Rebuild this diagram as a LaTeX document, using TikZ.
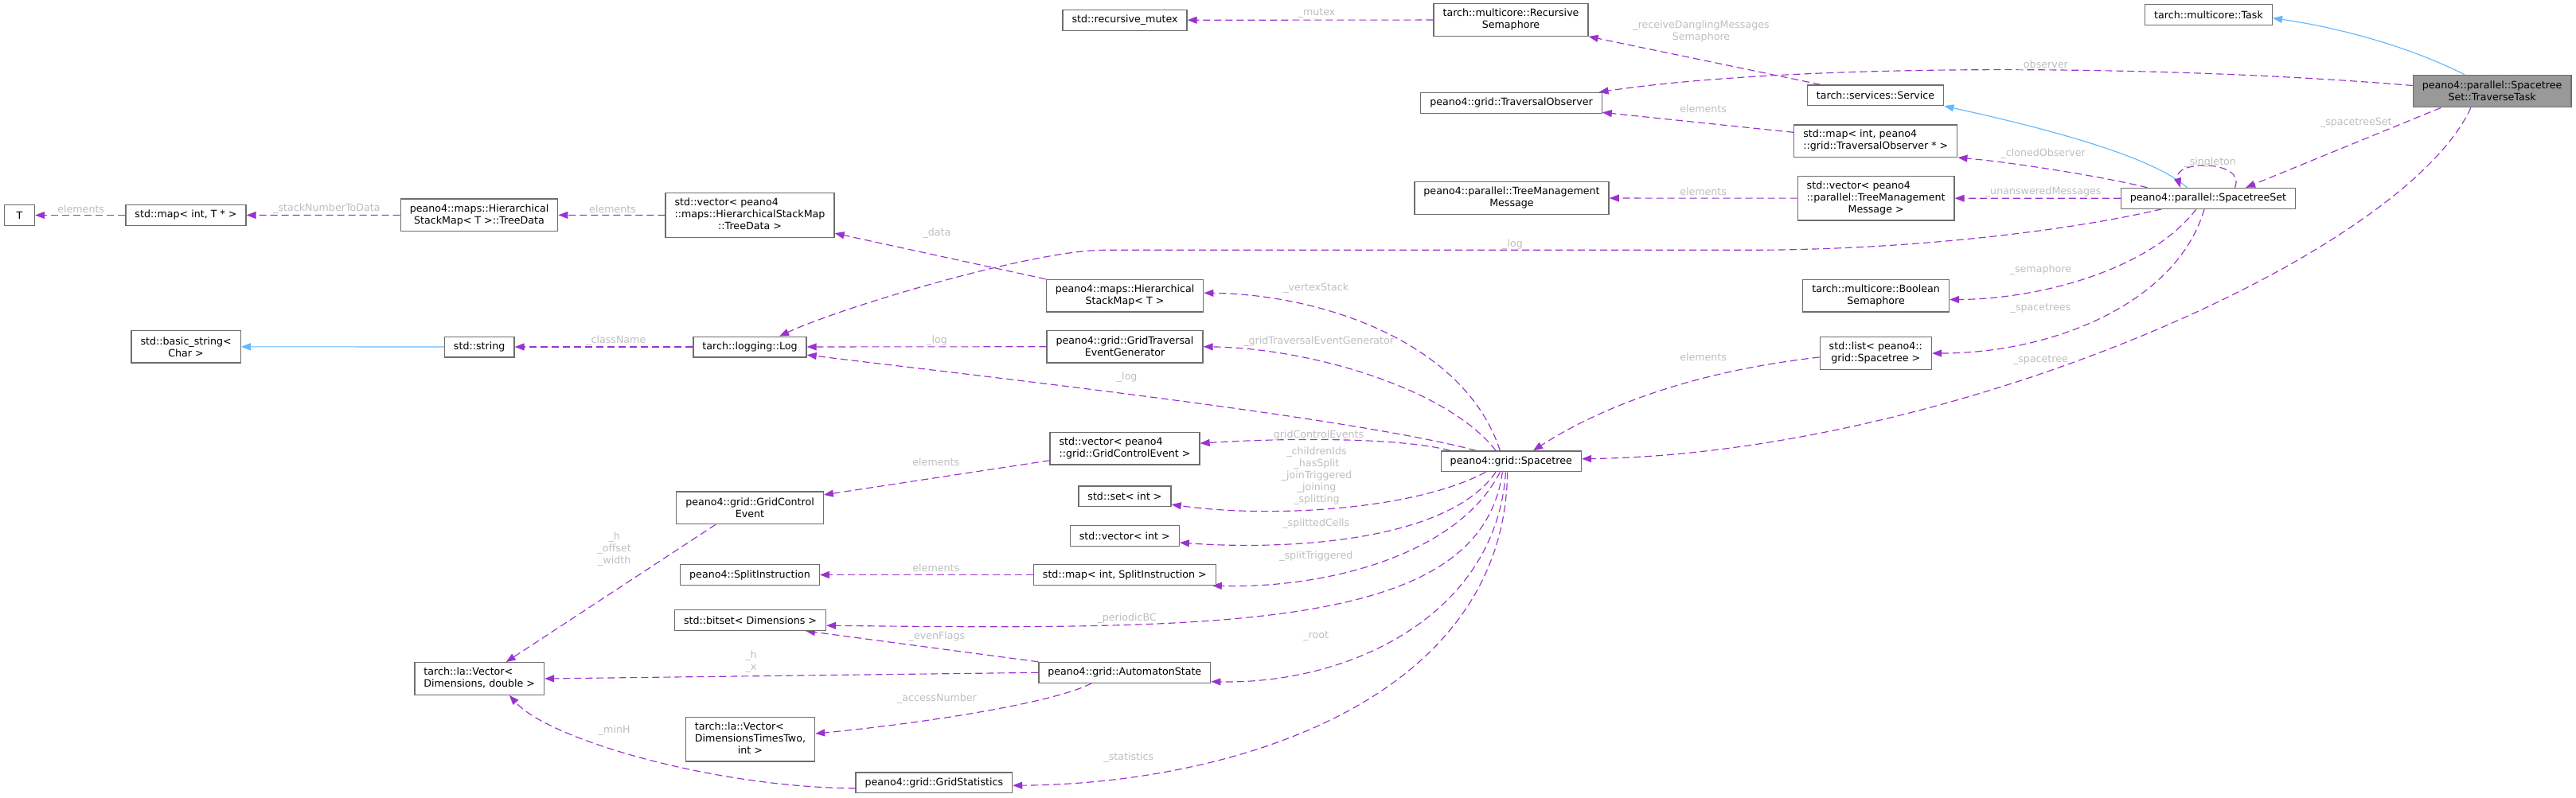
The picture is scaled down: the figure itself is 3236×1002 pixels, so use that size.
\documentclass[tikz,border=0pt]{standalone}
\usepackage{fontspec}
\setmainfont{DejaVu Sans}
\usetikzlibrary{arrows.meta,backgrounds}

\definecolor{usecol}{RGB}{154,50,205}
\definecolor{inhcol}{RGB}{99,184,255}
\definecolor{boxline}{RGB}{110,110,110}
\definecolor{lblcol}{RGB}{190,190,190}
\definecolor{selfill}{RGB}{153,153,153}
\newcommand{\ltab}[1]{\begin{tabular}{@{}l@{}}#1\end{tabular}}
\newcommand{\cl}[1]{\multicolumn{1}{@{}c@{}}{#1}}

\begin{document}
\begin{tikzpicture}[
  x=1pt, y=-1pt,
  font=\fontsize{12.65}{15}\selectfont,
  cls/.style={draw=boxline, line width=1.3pt, fill=white, minimum height=25.7pt,
    minimum width=38pt, inner xsep=11.5pt, inner ysep=2pt, align=center},
  lines2/.style={minimum height=40.5pt},
  lines3/.style={minimum height=55.5pt},
  focus/.style={cls, fill=selfill},
  member/.style={draw=usecol, line width=1.15pt, dash pattern=on 9pt off 5pt,
    -{Triangle[length=12pt,width=9pt]}},
  inherit/.style={draw=inhcol, line width=1.15pt, -{Triangle[length=12pt,width=9pt]}},
  lbl/.style={text=lblcol, inner sep=0pt, align=center}
]
\useasboundingbox (0,0) rectangle (3236,1002);

\node[cls] (T) at (24.5,270.5) {T};
\node[cls] (mapIntT) at (233.5,270.5) {std::map< int, T * >};
\node[cls, lines2] (treeData) at (602,270.3) {peano4::maps::Hierarchical\\StackMap< T >::TreeData};
\node[cls, lines3] (vecTreeData) at (942,270.5) {\ltab{std::vector< peano4\\::maps::HierarchicalStackMap\\\cl{::TreeData >}}};
\node[cls, lines2] (basicString) at (233.6,435.8) {std::basic\_string<\\Char >};
\node[cls] (stdString) at (602.2,436) {std::string};
\node[cls] (log) at (942,436) {tarch::logging::Log};
\node[cls] (recMutex) at (1413,25.3) {std::recursive\_mutex};
\node[cls, lines2] (recSem) at (1898,25) {tarch::multicore::Recursive\\Semaphore};
\node[cls] (travObs) at (1898.5,129.3) {peano4::grid::TraversalObserver};
\node[cls, lines2] (treeMsg) at (1899,249) {peano4::parallel::TreeManagement\\Message};
\node[cls] (task) at (2774.5,18.5) {tarch::multicore::Task};
\node[focus, lines2] (traverseTask) at (3130.6,114.5) {peano4::parallel::Spacetree\\Set::TraverseTask};
\node[cls] (service) at (2356,119.7) {tarch::services::Service};
\node[cls, lines2] (mapObs) at (2356.3,177.2) {\ltab{std::map< int, peano4\\\cl{::grid::TraversalObserver * >}}};
\node[cls, lines3] (vecMsg) at (2356.6,249.2) {\ltab{std::vector< peano4\\::parallel::TreeManagement\\\cl{Message >}}};
\node[cls] (spacetreeSet) at (2774,249.3) {peano4::parallel::SpacetreeSet};
\node[cls, lines2] (boolSem) at (2356.6,371.7) {tarch::multicore::Boolean\\Semaphore};
\node[cls, lines2] (listTree) at (2356.3,444) {\ltab{std::list< peano4::\\\cl{grid::Spacetree >}}};
\node[cls, lines2] (hsm) at (1413,371.7) {peano4::maps::Hierarchical\\StackMap< T >};
\node[cls, lines2] (gteg) at (1413,435.7) {peano4::grid::GridTraversal\\EventGenerator};
\node[cls, lines2] (vecGCE) at (1413,563.8) {\ltab{std::vector< peano4\\\cl{::grid::GridControlEvent >}}};
\node[cls, lines2] (gce) at (942,638.3) {peano4::grid::GridControl\\Event};
\node[cls] (setInt) at (1413,623.8) {std::set< int >};
\node[cls] (spacetree) at (1898.3,579.8) {peano4::grid::Spacetree};
\node[cls] (vecInt) at (1412.8,673.5) {std::vector< int >};
\node[cls] (mapSplit) at (1412.8,722.5) {std::map< int, SplitInstruction >};
\node[cls] (splitInstr) at (942,722.5) {peano4::SplitInstruction};
\node[cls] (bitset) at (942.5,779.5) {std::bitset< Dimensions >};
\node[cls] (automaton) at (1412.8,845.3) {peano4::grid::AutomatonState};
\node[cls, lines2] (vecDD) at (602.2,853) {\ltab{tarch::la::Vector<\\\cl{Dimensions, double >}}};
\node[cls, lines3] (vecTT) at (942.5,929.2) {\ltab{tarch::la::Vector<\\\cl{DimensionsTimesTwo,}\\\cl{int >}}};
\node[cls] (gridStats) at (1173.3,983.8) {peano4::grid::GridStatistics};

\node[lbl] (lbT) at (101.7,262.3) {elements};
\node[lbl] (lbStackNum) at (410.4,262.3) {\_stackNumberToData};
\node[lbl] (lbTreeData) at (769.6,262.3) {elements};
\node[lbl] (lbData) at (1177,292.7) {\_data};
\node[lbl] (lbClassName) at (773.8,427.7) {\_className};
\node[lbl] (lbMutex) at (1654,16.7) {\_mutex};
\node[lbl] (lbDangling) at (2137,40) {\_receiveDanglingMessages\\Semaphore};
\node[lbl] (lbObserver) at (2566.7,82.3) {\_observer};
\node[lbl] (lbTravObs) at (2139.6,136.7) {elements};
\node[lbl] (lbSetField) at (2959.8,154.3) {\_spacetreeSet};
\node[lbl] (lbCloned) at (2566.7,192.7) {\_clonedObserver};
\node[lbl] (lbSingleton) at (2776.7,204.3) {\_singleton};
\node[lbl] (lbUnanswered) at (2566.7,240.7) {\_unansweredMessages};
\node[lbl] (lbTreeMsg) at (2139.6,240.7) {elements};
\node[lbl] (lbLogSet) at (1900,306.7) {\_log};
\node[lbl] (lbSemaphore) at (2563.4,339.3) {\_semaphore};
\node[lbl] (lbTrees) at (2563.4,387.7) {\_spacetrees};
\node[lbl] (lbTree) at (2563.4,452.7) {\_spacetree};
\node[lbl] (lbListElem) at (2139.6,448.7) {elements};
\node[lbl] (lbVertex) at (1653.3,362.3) {\_vertexStack};
\node[lbl] (lbGenerator) at (1656.7,428.7) {\_gridTraversalEventGenerator};
\node[lbl] (lbLogGen) at (1177,427.7) {\_log};
\node[lbl] (lbLogTree) at (1415.7,474.3) {\_log};
\node[lbl] (lbEvents) at (1653.3,546.7) {\_gridControlEvents};
\node[lbl] (lbEventElem) at (1175.8,580.7) {elements};
\node[lbl] (lbSetInt) at (1654,598.3) {\_childrenIds\\\_hasSplit\\\_joinTriggered\\\_joining\\\_splitting};
\node[lbl] (lbSplitted) at (1653.3,658.3) {\_splittedCells};
\node[lbl] (lbSplitTrig) at (1653.3,699.3) {\_splitTriggered};
\node[lbl] (lbSplitElem) at (1175.8,714) {elements};
\node[lbl] (lbPeriodic) at (1415.7,776.7) {\_periodicBC};
\node[lbl] (lbEven) at (1177,800) {\_evenFlags};
\node[lbl] (lbRoot) at (1653.3,800) {\_root};
\node[lbl] (lbHX) at (943.5,832) {\_h\\\_x};
\node[lbl] (lbAccess) at (1177,878.3) {\_accessNumber};
\node[lbl] (lbStats) at (1417.8,951.7) {\_statistics};
\node[lbl] (lbHOW) at (771.7,690) {\_h\\\_offset\\\_width};
\node[lbl] (lbMinH) at (771.7,918.3) {\_minH};

\begin{scope}[on background layer]
\draw[member] (mapIntT) -- (T);
\draw[member] (treeData) -- (mapIntT);
\draw[member] (vecTreeData) -- (treeData);
\draw[member] (hsm.north west) -- (vecTreeData.-12);
\draw[inherit] (stdString) -- (basicString);
\draw[member] (log) -- (stdString);
\draw[member] (recSem) -- (recMutex);
\draw[member] (service.169) -- (recSem.south east);
\draw[member] (traverseTask.176) .. controls (2700,80) and (2250,80) .. (travObs.7);
\draw[member] (mapObs.174) -- (travObs.-6);
\draw[inherit] (traverseTask.149) .. controls +(-80,-40) and +(70,10) .. (task.-3);
\draw[inherit] (spacetreeSet.153) .. controls +(-50,-45) and +(90,20) .. (service.south east);
\draw[member] (spacetreeSet.170) .. controls +(-60,-15) and +(60,5) .. (mapObs.south east);
\draw[member] (spacetreeSet) -- (vecMsg);
\draw[member] (vecMsg) -- (treeMsg);
\draw[member] (spacetreeSet.22) .. controls +(15,-35) and +(-10,-35) .. (spacetreeSet.159);
\draw[member] (traverseTask.198) -- (spacetreeSet.16);
\draw[member] (spacetreeSet.193) .. controls (2600,290) and (2400,314) .. (2200,314.3)
  -- (1387.6,314.3) .. controls (1300,314) and (1060,385) .. (log.20);
\draw[member] (spacetreeSet.222) .. controls (2700,340) and (2560,376) .. (boolSem.-3);
\draw[member] (spacetreeSet.250) .. controls (2735,380) and (2580,444) .. (listTree.east);
\draw[member] (traverseTask.218) .. controls (3020,320) and (2450,570) .. (spacetree.2);
\draw[member] (listTree.184) .. controls (2100,470) and (1990,525) .. (spacetree.26);
\draw[member] (spacetree.136) .. controls (1840,430) and (1660,370) .. (hsm.2);
\draw[member] (spacetree.145) .. controls (1820,490) and (1650,438) .. (gteg.east);
\draw[member] (spacetree.163) .. controls (1700,525) and (1250,475) .. (log.-8);
\draw[member] (gteg) -- (log);
\draw[member] (spacetree.170) .. controls (1760,550) and (1620,550) .. (vecGCE.4);
\draw[member] (vecGCE.189) -- (gce.10);
\draw[member] (spacetree.203) .. controls (1780,640) and (1600,652) .. (setInt.-10);
\draw[member] (spacetree.215) .. controls (1820,680) and (1620,692) .. (vecInt.-7);
\draw[member] (spacetree.224) .. controls (1830,700) and (1660,740) .. (mapSplit.-7);
\draw[member] (mapSplit) -- (splitInstr);
\draw[member] (spacetree.231) .. controls (1860,790) and (1550,792) .. (bitset.-4);
\draw[member] (automaton.north west) -- (bitset.-11);
\draw[member] (automaton.west) -- (vecDD.east);
\draw[member] (automaton.198) .. controls (1320,885) and (1150,910) .. (vecTT.5);
\draw[member] (spacetree.243) .. controls (1880,770) and (1700,860) .. (automaton.-6);
\draw[member] (spacetree.251) .. controls (1890,880) and (1550,985) .. (gridStats.-2);
\draw[member] (gce.206) -- (vecDD.32);
\draw[member] (gridStats.184) .. controls (900,990) and (690,930) .. (vecDD.-29);
\end{scope}
\end{tikzpicture}
\end{document}
